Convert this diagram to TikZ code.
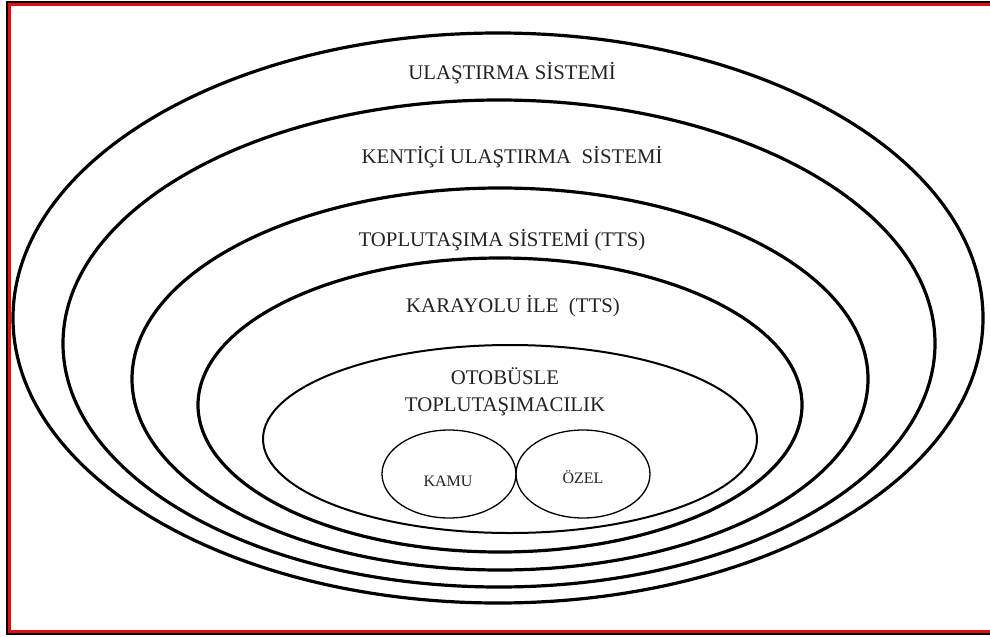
\documentclass[tikz,border=0pt]{standalone}
\usepackage{fontspec}
\setmainfont{Liberation Serif}
\definecolor{txt}{HTML}{222222}
\definecolor{frame}{HTML}{E01010}
\begin{document}
\begin{tikzpicture}[x=1pt,y=-1pt,
  big/.style={line width=3.2pt,black},
  mid/.style={line width=2pt,black},
  small/.style={line width=1.3pt,black},
  lbl/.style={text=txt,font=\fontsize{20.8}{24}\selectfont,inner sep=0pt},
  slbl/.style={text=txt,font=\fontsize{16}{18}\selectfont,inner sep=0pt}]
\useasboundingbox (0,0) rectangle (990,637);
% frame
\draw[line width=2pt,black] (1000,2) -- (7,2) -- (7,634) -- (1000,634);
\draw[line width=2.4pt,frame] (1000,4.6) -- (9.6,4.6) -- (9.6,631.4) -- (1000,631.4);
% ellipses
\draw[big] (498,318) ellipse [x radius=485, y radius=285];
\draw[big] (499,343.5) ellipse [x radius=436, y radius=243.5];
\draw[big] (500,379) ellipse [x radius=368, y radius=191];
\draw[big] (500,405) ellipse [x radius=302, y radius=147];
\draw[mid] (510,439) ellipse [x radius=247, y radius=94];
\draw[small] (449,474) ellipse [x radius=67, y radius=44];
\draw[small] (583,474) ellipse [x radius=67, y radius=44];
% labels
\node[lbl] (t1) at (512,73) {ULAŞTIRMA SİSTEMİ};
\node[lbl] (t2) at (512,157) {KENTİÇİ ULAŞTIRMA\ \ SİSTEMİ};
\node[lbl] (t3) at (502,240) {TOPLUTAŞIMA SİSTEMİ (TTS)};
\node[lbl] (t4) at (513,306) {KARAYOLU İLE\ \ (TTS)};
\node[lbl] (t5) at (505,376) {OTOBÜSLE};
\node[lbl] (t6) at (505,407) {TOPLUTAŞIMACILIK};
\node[slbl] (t7) at (448,481) {KAMU};
\node[slbl] (t8) at (583,477) {ÖZEL};
\end{tikzpicture}
\end{document}
